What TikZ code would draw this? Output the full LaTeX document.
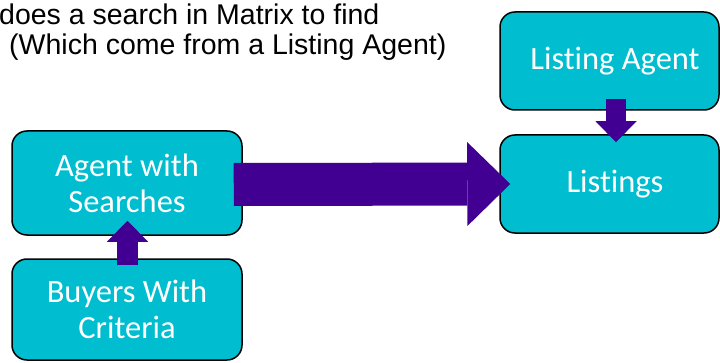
\documentclass[tikz,border=0pt]{standalone}
\usepackage{fontspec}
\setmainfont{Liberation Sans}
\newfontfamily\boxfont[Ligatures=NoCommon]{Carlito}
\usetikzlibrary{arrows.meta, positioning}
\definecolor{clrBox}{HTML}{00BED0}
\definecolor{clrArrow}{HTML}{420093}

\begin{document}
\begin{tikzpicture}[x=1pt, y=1pt,
    box/.style={rectangle, draw=black, fill=clrBox, rounded corners=15pt, line width=1.5pt, align=center, text=white, font=\boxfont\fontsize{32.5}{36}\selectfont, inner sep=0pt},
    bigarrow/.style={draw=clrArrow, line width=43pt, -{Triangle[length=43pt, width=84pt, line width=0pt]}},
    smallarrow/.style={draw=clrArrow, line width=20.5pt, -{Triangle[length=21pt, width=41pt, line width=0pt]}},
    note/.style={font=\fontsize{28.5}{30}\selectfont, anchor=base west, inner sep=0pt},
]
\useasboundingbox (0,0) rectangle (720,362);

% Caption text at top
\node[note] (line1) at (-1, 337) {does a search in Matrix to find};
\node[note] (line2) at (9, 307) {(Which come from a Listing Agent)};

% Buyer side
\node[box, minimum width=230pt, minimum height=104pt] (search) at (127, 179) {Agent with\\Searches};
\node[box, minimum width=230pt, minimum height=101pt] (buyers) at (127, 52.5) {Buyers With\\Criteria};

% Listing side (text sits a bit right of centre)
\node[box, minimum width=219pt, minimum height=98pt] (listagent) at (609.5, 301) {\hspace*{11pt}Listing Agent};
\node[box, minimum width=219pt, minimum height=98pt] (listings) at (609.5, 178) {\hspace*{11pt}Listings};

% Arrows
\draw[smallarrow] ([xshift=0.5pt, yshift=-7pt]buyers.north) -- ([xshift=0.5pt, yshift=15pt]search.south);
\draw[smallarrow] ([xshift=6.5pt, yshift=12pt]listagent.south) -- ([xshift=6.5pt, yshift=-8pt]listings.north);
\draw[bigarrow] ([xshift=-9pt, yshift=-1.5pt]search.east) -- ([xshift=11pt]listings.west);

\end{tikzpicture}
\end{document}
